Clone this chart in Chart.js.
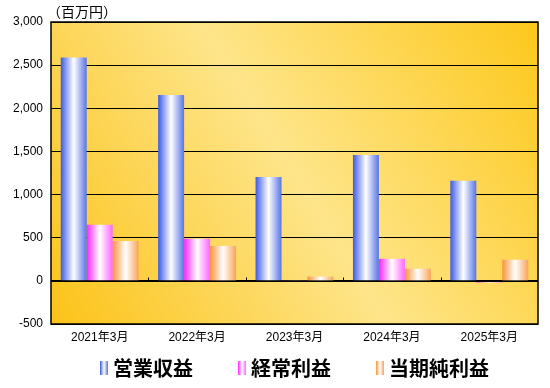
<!DOCTYPE html>
<html>
<head>
<meta charset="utf-8">
<script src="https://cdn.jsdelivr.net/npm/chart.js@4"></script>
<style>
  html, body { margin: 0; padding: 0; background: #fff; }
  #wrap { width: 550px; height: 388px; }
</style>
</head>
<body>
<div id="wrap"><canvas id="myChart"></canvas></div>
<script>
// data (百万円)
var categories = ['2021年3月', '2022年3月', '2023年3月', '2024年3月', '2025年3月'];
var seriesNames = ['営業収益', '経常利益', '当期純利益'];
var revenue = [2590, 2155, 1205, 1460, 1160];
var ordinaryProfit = [650, 487, 8, 255, -20];
var netProfit = [463, 405, 50, 140, 245];
var yTicks = [-500, 0, 500, 1000, 1500, 2000, 2500, 3000];
var unitLabel = '（百万円）';

// gradient stops for each series: edge, centre, edge
var barStops = [
  ['#3b5ae4', '#ffffff', '#5874e6'],
  ['#ff22ff', '#ffffff', '#ff66ff'],
  ['#f7943a', '#ffffff', '#f8a458']
];

function fillGradient(ctx, x0, x1, stops) {
  var g = ctx.createLinearGradient(x0, 0, x1, 0);
  g.addColorStop(0, stops[0]);
  g.addColorStop(0.5, stops[1]);
  g.addColorStop(1, stops[2]);
  return g;
}

// legend swatch: narrow gradient bar at the right of a transparent canvas
var SWATCH_BOX = 36;
function makeSwatch(stops) {
  var c = document.createElement('canvas');
  c.width = SWATCH_BOX + 10;
  c.height = 14;
  var cx = c.getContext('2d');
  var x0 = SWATCH_BOX + 2;
  cx.fillStyle = fillGradient(cx, x0, x0 + 8, stops);
  cx.fillRect(x0, 0, 8, 14);
  return c;
}
var swatches = barStops.map(makeSwatch);

var plotDecor = {
  id: 'plotDecor',
  afterLayout: function (chart) {
    // legend sits a little right of the plot's left edge
    chart.legend.left += 4;
    chart.legend.right += 4;
  },
  beforeDraw: function (chart) {
    var a = chart.chartArea, ctx = chart.ctx;
    var g = ctx.createLinearGradient(a.left, a.bottom, a.right, a.top);
    g.addColorStop(0, '#fcc318');
    g.addColorStop(0.5, '#fee58a');
    g.addColorStop(1, '#fdc81c');
    ctx.save();
    ctx.fillStyle = g;
    ctx.fillRect(a.left, a.top, a.right - a.left, a.bottom - a.top);
    ctx.restore();
  },
  beforeDatasetsDraw: function (chart) {
    var ctx = chart.ctx;
    chart.data.datasets.forEach(function (ds, i) {
      chart.getDatasetMeta(i).data.forEach(function (bar) {
        var x0 = bar.x - bar.width / 2;
        bar.options.backgroundColor = fillGradient(ctx, x0, x0 + bar.width, barStops[i]);
      });
    });
  },
  afterDatasetsDraw: function (chart) {
    var a = chart.chartArea, ctx = chart.ctx;
    var xs = chart.scales.x, ys = chart.scales.y;
    var y0 = Math.round(ys.getPixelForValue(0)) + 0.5;
    ctx.save();
    ctx.strokeStyle = '#000';
    ctx.lineWidth = 1;
    // zero line and category ticks
    ctx.beginPath();
    ctx.moveTo(a.left, y0);
    ctx.lineTo(a.right, y0);
    for (var i = 1; i < categories.length; i++) {
      var x = Math.round((xs.getPixelForValue(i - 1) + xs.getPixelForValue(i)) / 2) + 0.5;
      ctx.moveTo(x, y0);
      ctx.lineTo(x, y0 - 4);
    }
    ctx.stroke();
    ctx.lineWidth = 1.5;
    ctx.strokeRect(a.left, a.top, a.right - a.left, a.bottom - a.top);
    // unit label above the axis
    ctx.fillStyle = '#000';
    ctx.font = '14px "Noto Sans CJK JP"';
    ctx.textBaseline = 'middle';
    ctx.textAlign = 'left';
    ctx.fillText(unitLabel, a.left - 4, a.top - 10);
    ctx.restore();
  }
};

function perBar(color) {
  // scriptable so each bar keeps its own options object
  return function () { return color; };
}

var ctx = document.getElementById('myChart').getContext('2d');
var chart = new Chart(ctx, {
  type: 'bar',
  data: {
    labels: categories,
    datasets: [
      { label: seriesNames[0], data: revenue, backgroundColor: perBar('#5874e6') },
      { label: seriesNames[1], data: ordinaryProfit, backgroundColor: perBar('#ff44ff') },
      { label: seriesNames[2], data: netProfit, backgroundColor: perBar('#f8a050') }
    ]
  },
  options: {
    responsive: true,
    maintainAspectRatio: false,
    animation: false,
    events: [],
    layout: { padding: { left: 6, right: 12, top: 22, bottom: 0 } },
    datasets: { bar: { categoryPercentage: 0.8, barPercentage: 1.0 } },
    scales: {
      x: {
        grid: { display: false, drawTicks: false },
        border: { display: false },
        afterFit: function (scale) { scale.height = 22; },
        ticks: {
          color: '#000',
          padding: 6,
          font: { family: '"Liberation Sans", "Noto Sans CJK JP"', size: 12 }
        }
      },
      y: {
        min: -500,
        max: 3000,
        afterBuildTicks: function (scale) {
          scale.ticks = yTicks.map(function (v) { return { value: v }; });
        },
        afterFit: function (scale) { scale.width = 45; },
        grid: { color: '#000', lineWidth: 1, drawTicks: false },
        border: { display: false },
        ticks: {
          color: '#000',
          padding: 8,
          font: { family: '"Liberation Sans", Arial', size: 12 },
          callback: function (v) { return v.toLocaleString('en-US'); }
        }
      }
    },
    plugins: {
      tooltip: { enabled: false },
      title: { display: false },
      legend: {
        position: 'bottom',
        align: 'start',
        fullSize: false,
        labels: {
          usePointStyle: true,
          pointStyleWidth: SWATCH_BOX,
          padding: 12,
          color: '#000',
          font: { family: '"Noto Sans CJK JP"', size: 20, weight: 'bold' },
          generateLabels: function (chart) {
            return seriesNames.map(function (name, i) {
              return {
                text: name,
                pointStyle: swatches[i],
                fillStyle: 'transparent',
                strokeStyle: 'transparent',
                lineWidth: 0,
                datasetIndex: i
              };
            });
          }
        }
      }
    }
  },
  plugins: [plotDecor]
});
</script>
</body>
</html>
